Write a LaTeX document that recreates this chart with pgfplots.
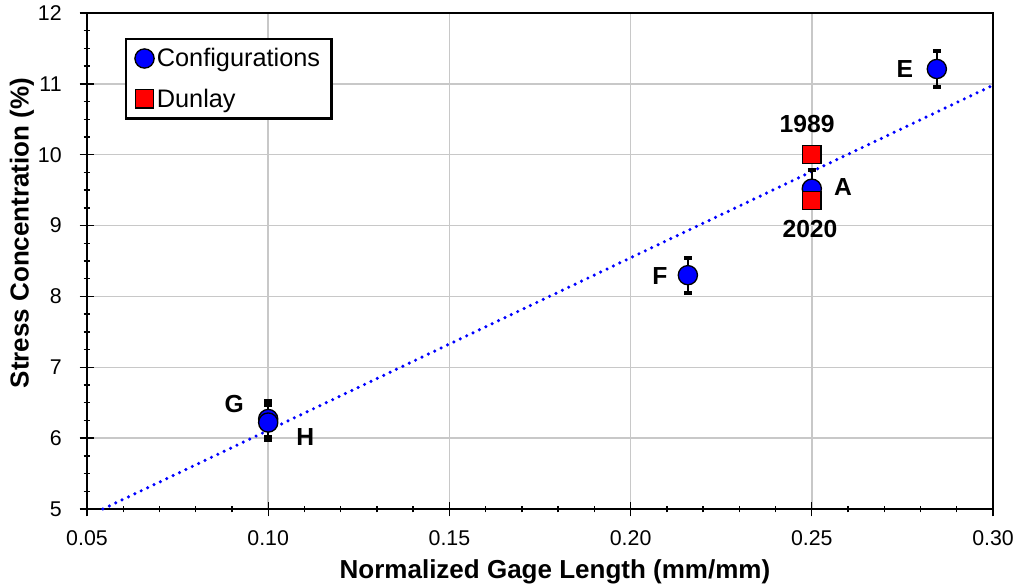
\documentclass[border=0pt]{standalone}
\usepackage{fontspec}
\setmainfont{Liberation Sans}
\usepackage{pgfplots}
\pgfplotsset{compat=1.18}

\definecolor{gridgray}{RGB}{200,200,200}
\definecolor{cfgblue}{RGB}{0,0,255}
\definecolor{dunred}{RGB}{255,0,0}

\begin{document}
\begin{tikzpicture}
\begin{axis}[
    scale only axis,
    width=679.5pt, height=372pt,
    xmin=0.05, xmax=0.30,
    ymin=5, ymax=12,
    xtick={0.05,0.10,0.15,0.20,0.25,0.30},
    ytick={5,6,7,8,9,10,11,12},
    minor x tick num=4,
    minor y tick num=3,
    xtick pos=bottom, ytick pos=left,
    grid=major,
    major grid style={gridgray, line width=1.1pt},
    axis line style={black, line width=1.2pt},
    tick style={black, line width=1pt},
    tick align=center,
    major tick length=11pt, minor tick length=5pt,
    /pgf/number format/assume math mode=true,
    tick label style={font=\fontsize{16}{19}\selectfont},
    xticklabel style={yshift=-7pt, /pgf/number format/.cd, fixed, fixed zerofill, precision=2},
    yticklabel style={xshift=-10pt},
    xlabel={Normalized Gage Length (mm/mm)},
    ylabel={Stress Concentration (\%)},
    label style={font=\fontsize{19.5}{23}\selectfont\bfseries},
    xlabel style={at={(ticklabel cs:0.5165)}, yshift=-4pt},
    ylabel style={at={(ticklabel cs:0.5565)}},
    ylabel shift=-4pt,
    legend style={
        at={(0.042,0.950)}, anchor=north west,
        draw=black, line width=1.8pt,
        font=\fontsize{19}{23}\selectfont,
        row sep=11pt, inner xsep=6.5pt, inner ysep=5pt,
        cells={anchor=west},
    },
    legend cell align=left,
    clip=false,
]

% trend line
\addplot[cfgblue, line width=2.6pt, line cap=round, dash pattern=on 0pt off 5.3pt, forget plot] coordinates {
    (0.0544,5.0) (0.30,10.98)
};

% configurations
\addplot+[only marks, mark=*, mark size=7.2pt,
    mark options={draw=black, fill=cfgblue, line width=1pt},
    error bars/.cd, y dir=both, y explicit,
    error mark=-,
    error bar style={black, line width=1.1pt},
    error mark options={black, rotate=90, mark size=3pt, line width=3pt}]
coordinates {
    (0.2845,11.21) +- (0,0.254)
    (0.25,9.52) +- (0,0.27)
    (0.2158,8.30) +- (0,0.245)
    (0.10,6.27) +- (0,0.25)
    (0.10,6.22) +- (0,0.25)
};
\addlegendentry{Configurations}

% Dunlay
\addplot+[only marks, mark=square*, mark size=6.8pt,
    mark options={draw=black, fill=dunred, line width=1pt}]
coordinates {
    (0.25,10.0)
    (0.25,9.35)
};
\addlegendentry{Dunlay}

\begin{scope}[font=\fontsize{18.5}{22}\selectfont\bfseries]
\node at (axis cs:0.2757,11.21) {E};
\node at (axis cs:0.2586,9.54) {A};
\node at (axis cs:0.2081,8.29) {F};
\node at (axis cs:0.0906,6.48) {G};
\node at (axis cs:0.1102,6.01) {H};
\node at (axis cs:0.2487,10.43) {1989};
\node at (axis cs:0.2495,8.95) {2020};
\end{scope}
\end{axis}
\pgfresetboundingbox
\path[use as bounding box] ([xshift=-65.25pt,yshift=-59.25pt]current axis.south west)
    rectangle ([xshift=19.5pt,yshift=9.75pt]current axis.north east);
\end{tikzpicture}
\end{document}
